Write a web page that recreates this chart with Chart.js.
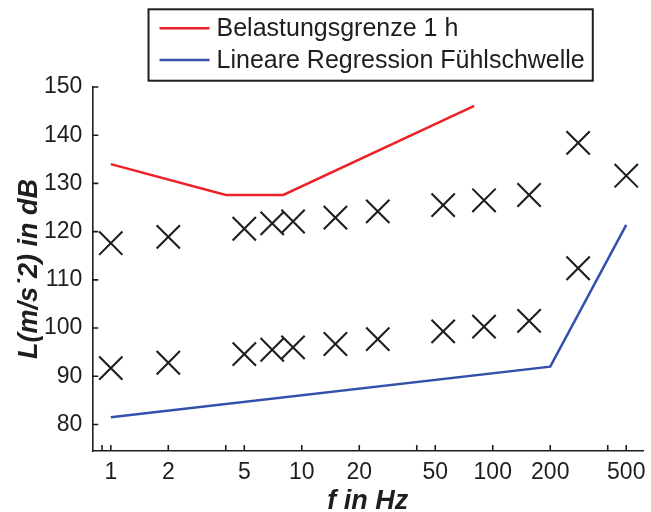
<!DOCTYPE html>
<html><head><meta charset="utf-8">
<script src="https://cdn.jsdelivr.net/npm/chart.js@4/dist/chart.umd.min.js"></script>
<style>html,body{margin:0;padding:0;background:#fff}#wrap{width:651px;height:512px;position:relative}</style>
</head><body><div id="wrap"><canvas id="c"></canvas></div>
<script>
const limitFreq = [1, 4, 8, 80];
const limitLevel = [134.0, 127.6, 127.6, 146.1];
const thresholdFreq = [1, 200, 500];
const thresholdLevel = [81.5, 92.0, 121.4];
const measFreq = [1, 2, 5, 7, 9, 15, 25, 55, 90, 155, 280, 500];
const upperLevel = [117.6, 118.9, 120.6, 121.7, 122.1, 122.9, 124.2, 125.5, 126.5, 127.6, 138.4, 131.6];
const lowerLevel = [91.7, 92.8, 94.6, 95.5, 96.0, 96.7, 97.7, 99.3, 100.3, 101.5, 112.4, null];
const xTickLabels = [1, 2, 5, 10, 20, 50, 100, 200, 500];
const xMinorTicks = [0.9, 4, 40, 400];
const yTickLabels = [80, 90, 100, 110, 120, 130, 140, 150];
const seriesNames = ['Belastungsgrenze 1 h', 'Lineare Regression Fühlschwelle'];
const xTitle = 'f in Hz';
const yTitle = 'L(m/s\u02D92) in dB';

const RED = '#ec2228', BLUE = '#3450ad', INK = '#1e1e1e';
const FONT = 'Liberation Sans, Arial, Helvetica, sans-serif';

const toPts = (xs, ys) => xs.map((x, i) => ({x: x, y: ys[i]}));

const inwardTicks = {
  id: 'inwardTicks',
  afterDraw(chart) {
    const {ctx, chartArea} = chart;
    const xs = chart.scales.x, ys = chart.scales.y;
    ctx.save();
    ctx.strokeStyle = INK;
    ctx.lineWidth = 1.6;
    ctx.beginPath();
    xs.ticks.forEach(t => {
      const px = xs.getPixelForValue(t.value);
      ctx.moveTo(px, chartArea.bottom);
      ctx.lineTo(px, chartArea.bottom - 6);
    });
    ys.ticks.forEach(t => {
      const py = ys.getPixelForValue(t.value);
      ctx.moveTo(chartArea.left, py);
      ctx.lineTo(chartArea.left + 6, py);
    });
    ctx.stroke();
    ctx.restore();
  }
};

const boxedLegend = {
  id: 'boxedLegend',
  afterDraw(chart) {
    const {ctx, chartArea} = chart;
    const ds = chart.data.datasets.slice(0, 2);
    ctx.save();
    ctx.font = '25px ' + FONT;
    const textW = Math.max(...ds.map(d => ctx.measureText(d.label).width));
    const lineLen = 50, padL = 11, gap = 7, padR = 8, rowH = 31.7, padT = 19, padB = 20.7;
    const w = padL + lineLen + gap + textW + padR;
    const h = padT + rowH + padB;
    const cx = (chartArea.left + chartArea.right) / 2 + 3;
    const x0 = cx - w / 2, y0 = 9.3;
    ctx.strokeStyle = INK;
    ctx.lineWidth = 2;
    ctx.strokeRect(x0, y0, w, h);
    ds.forEach((d, i) => {
      const yy = y0 + padT + i * rowH;
      ctx.strokeStyle = d.borderColor;
      ctx.lineWidth = 2.5;
      ctx.beginPath();
      ctx.moveTo(x0 + padL, yy);
      ctx.lineTo(x0 + padL + lineLen, yy);
      ctx.stroke();
      ctx.fillStyle = INK;
      ctx.textBaseline = 'middle';
      ctx.textAlign = 'left';
      ctx.fillText(d.label, x0 + padL + lineLen + gap, yy + 1);
    });
    ctx.restore();
  }
};

new Chart(document.getElementById('c'), {
  data: {
    datasets: [
      {type: 'line', label: seriesNames[0], data: toPts(limitFreq, limitLevel),
       borderColor: RED, borderWidth: 2.5, pointRadius: 0, fill: false, tension: 0},
      {type: 'line', label: seriesNames[1], data: toPts(thresholdFreq, thresholdLevel),
       borderColor: BLUE, borderWidth: 2.5, pointRadius: 0, fill: false, tension: 0},
      {type: 'scatter', label: 'upper', data: toPts(measFreq, upperLevel),
       pointStyle: 'crossRot', pointRadius: 16.5, borderColor: INK, pointBorderWidth: 2.1, borderWidth: 2.1},
      {type: 'scatter', label: 'lower', data: toPts(measFreq, lowerLevel),
       pointStyle: 'crossRot', pointRadius: 16.5, borderColor: INK, pointBorderWidth: 2.1, borderWidth: 2.1}
    ]
  },
  options: {
    responsive: true,
    maintainAspectRatio: false,
    animation: false,
    layout: {autoPadding: false, padding: {top: 87, right: 8, left: 0, bottom: 0}},
    plugins: {legend: {display: false}, tooltip: {enabled: false}},
    scales: {
      x: {
        type: 'logarithmic', min: 0.8, max: 612,
        afterBuildTicks(s) { s.ticks = [...xMinorTicks, ...xTickLabels].sort((a, b) => a - b).map(v => ({value: v})); },
        afterFit(s) { s.height = 61; s.paddingLeft = 0; s.paddingRight = 0; },
        ticks: {autoSkip: false, maxRotation: 0, padding: 8, color: INK,
                font: {family: FONT, size: 23},
                callback: v => xTickLabels.includes(v) ? String(v) : ''},
        grid: {display: true, drawOnChartArea: false, drawTicks: false},
        border: {display: true, color: INK, width: 1.6},
        title: {display: true, text: xTitle, color: INK, padding: {top: 0, bottom: -6},
                font: {family: FONT, size: 27, weight: 'bold', style: 'italic'}}
      },
      y: {
        type: 'linear', min: 74.5, max: 150,
        afterBuildTicks(s) { s.ticks = yTickLabels.map(v => ({value: v})); },
        afterFit(s) { s.width = 92.3; s.paddingTop = 0; s.paddingBottom = 0; },
        ticks: {padding: 10, color: INK, font: {family: FONT, size: 23}},
        grid: {display: true, drawOnChartArea: false, drawTicks: false},
        border: {display: true, color: INK, width: 1.6},
        title: {display: true, text: yTitle, color: INK, padding: {top: 13, bottom: 0},
                font: {family: FONT, size: 27, weight: 'bold', style: 'italic'}}
      }
    }
  },
  plugins: [inwardTicks, boxedLegend]
});
</script>
</body></html>
